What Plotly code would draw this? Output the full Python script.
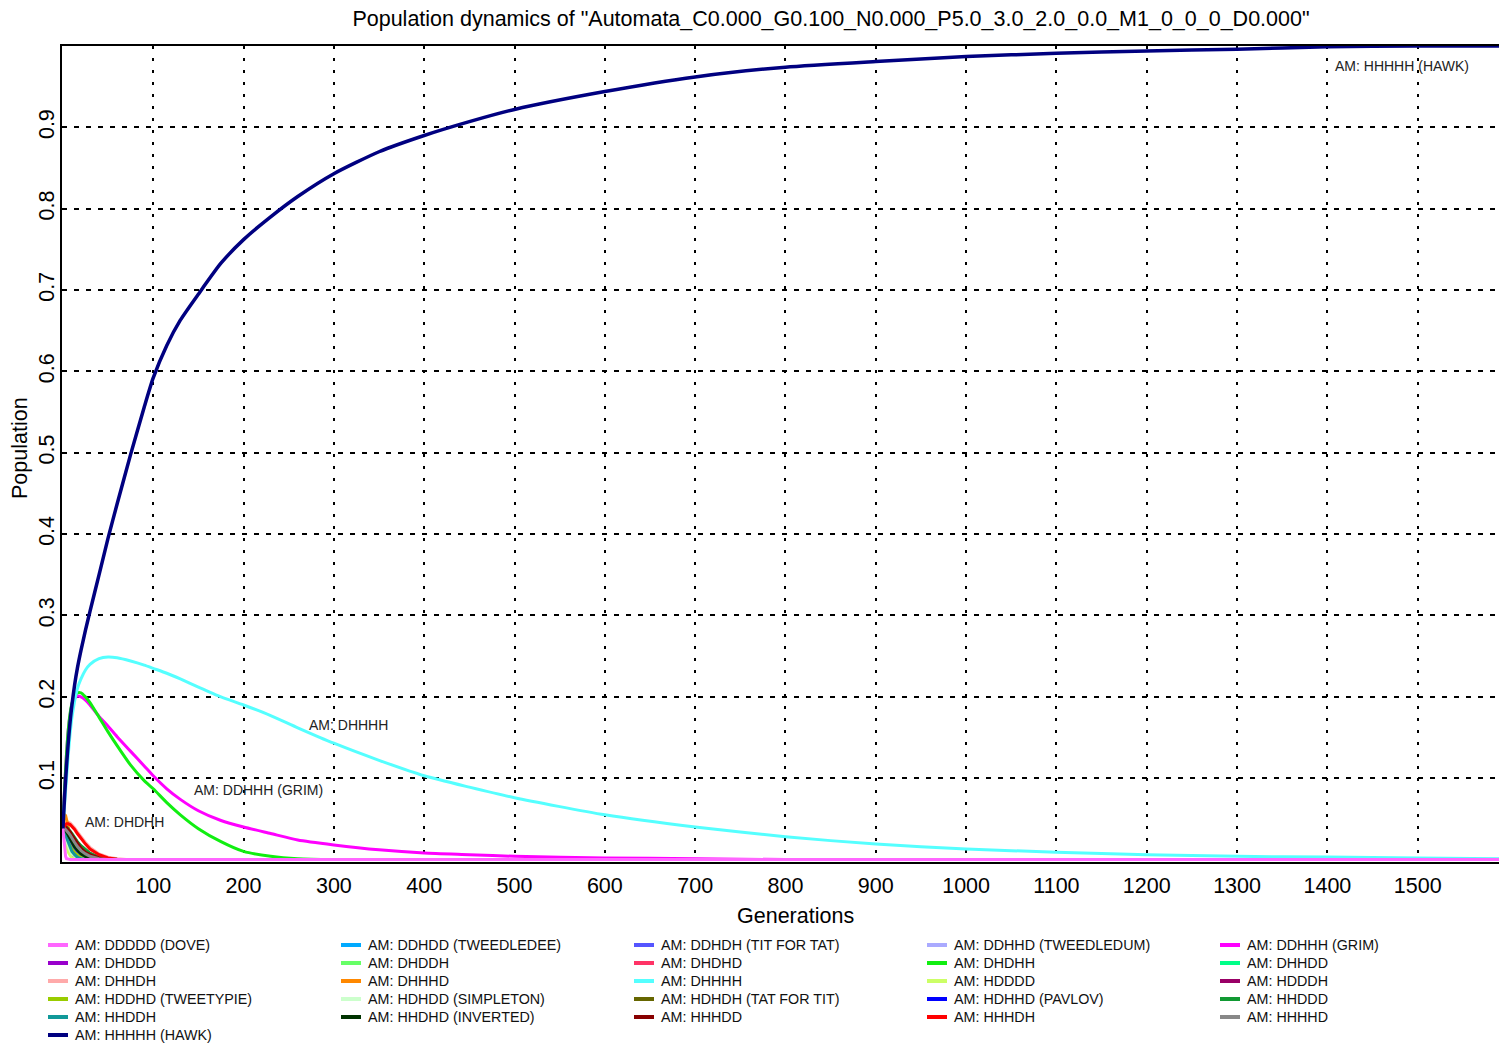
import plotly.graph_objects as go

# ---------------- data ----------------
STRATEGIES = [
    "AM: DDDDD (DOVE)", "AM: DDHDD (TWEEDLEDEE)", "AM: DDHDH (TIT FOR TAT)", "AM: DDHHD (TWEEDLEDUM)", "AM: DDHHH (GRIM)",
    "AM: DHDDD", "AM: DHDDH", "AM: DHDHD", "AM: DHDHH", "AM: DHHDD",
    "AM: DHHDH", "AM: DHHHD", "AM: DHHHH", "AM: HDDDD", "AM: HDDDH",
    "AM: HDDHD (TWEETYPIE)", "AM: HDHDD (SIMPLETON)", "AM: HDHDH (TAT FOR TIT)", "AM: HDHHD (PAVLOV)", "AM: HHDDD",
    "AM: HHDDH", "AM: HHDHD (INVERTED)", "AM: HHHDD", "AM: HHHDH", "AM: HHHHD",
    "AM: HHHHH (HAWK)",
]
COLORS = [
    "#FF66FF", "#00AAFF", "#5555FF", "#AAAAFF", "#FF00FF",
    "#9900CC", "#66FF66", "#FF3366", "#11EE11", "#00FF88",
    "#FFAAAA", "#FF8800", "#55FFFF", "#CCFF66", "#990066",
    "#99CC00", "#CCFFCC", "#666600", "#0000FF", "#119933",
    "#119999", "#003300", "#880000", "#FF0000", "#888888",
    "#000080",
]

# generations for the long-lived strategies
MAIN_GENS = [0, 2, 4, 6, 8, 10, 13, 16, 20, 25, 30, 40, 50, 60, 75, 90, 100, 115, 130, 150,
             175, 200, 230, 260, 300, 350, 400, 450, 500, 600, 700, 800, 900, 1000, 1100, 1200,
             1300, 1400, 1500, 1590]
HAWK = [0.038, 0.08, 0.115, 0.145, 0.17, 0.19, 0.215, 0.235, 0.257, 0.282, 0.305, 0.35, 0.395, 0.437,
        0.498, 0.556, 0.592, 0.632, 0.663, 0.695, 0.733, 0.762, 0.79, 0.815, 0.843, 0.87, 0.89, 0.907,
        0.922, 0.944, 0.962, 0.974, 0.981, 0.987, 0.991, 0.994, 0.996, 0.999, 1.0, 1.0]
DHHHH = [0.038, 0.07, 0.10, 0.13, 0.155, 0.175, 0.195, 0.21, 0.222, 0.233, 0.240, 0.247, 0.249,
         0.248, 0.244, 0.239, 0.235, 0.229, 0.222, 0.212, 0.2, 0.19, 0.177, 0.162, 0.143, 0.122,
         0.103, 0.089, 0.076, 0.055, 0.040, 0.028, 0.019, 0.013, 0.009, 0.006, 0.004, 0.003, 0.002,
         0.001]
DHDHH = [0.04, 0.09, 0.13, 0.16, 0.18, 0.192, 0.201, 0.205, 0.205, 0.2, 0.193, 0.175, 0.157, 0.14,
         0.116, 0.097, 0.087, 0.07, 0.055, 0.038, 0.022, 0.01, 0.004, 0.001, 0.0, 0.0, 0.0, 0.0,
         0.0, 0.0, 0.0, 0.0, 0.0, 0.0, 0.0, 0.0, 0.0, 0.0, 0.0, 0.0]
DDHHH = [0.045, 0.09, 0.13, 0.16, 0.178, 0.19, 0.198, 0.201, 0.2, 0.196, 0.19, 0.176, 0.164, 0.151,
         0.133, 0.115, 0.103, 0.087, 0.074, 0.06, 0.048, 0.04, 0.032, 0.024, 0.018, 0.012, 0.008,
         0.006, 0.004, 0.002, 0.001, 0.0, 0.0, 0.0, 0.0, 0.0, 0.0, 0.0, 0.0, 0.0]

# generations for the short-lived strategies
EARLY_GENS = [0, 1, 2, 3, 4, 6, 8, 10, 13, 16, 20, 25, 30, 40, 50, 60, 70, 1590]
DDDDD = [0.038, 0.025, 0.012, 0.004, 0.001, 0, 0, 0, 0, 0, 0, 0, 0, 0, 0, 0, 0, 0]
DDHDD = [0.038, 0.037, 0.035, 0.032, 0.029, 0.022, 0.016, 0.011, 0.006, 0.003, 0.001, 0, 0, 0, 0, 0, 0, 0]
DDHDH = [0.038, 0.038, 0.037, 0.036, 0.035, 0.032, 0.029, 0.026, 0.021, 0.017, 0.012, 0.008, 0.005, 0.002, 0.0005, 0, 0, 0]
DDHHD = [0.038, 0.038, 0.037, 0.035, 0.033, 0.029, 0.025, 0.021, 0.016, 0.012, 0.008, 0.005, 0.003, 0.001, 0, 0, 0, 0]
DHDDD = [0.038, 0.034, 0.029, 0.024, 0.019, 0.012, 0.007, 0.004, 0.002, 0.001, 0, 0, 0, 0, 0, 0, 0, 0]
DHDDH = [0.038, 0.038, 0.037, 0.036, 0.034, 0.030, 0.026, 0.022, 0.016, 0.011, 0.007, 0.004, 0.002, 0.0005, 0, 0, 0, 0]
DHDHD = [0.038, 0.039, 0.039, 0.038, 0.037, 0.033, 0.029, 0.024, 0.018, 0.013, 0.008, 0.004, 0.002, 0.0005, 0, 0, 0, 0]
DHHDD = [0.038, 0.037, 0.035, 0.032, 0.029, 0.023, 0.017, 0.012, 0.007, 0.004, 0.002, 0.0005, 0, 0, 0, 0, 0, 0]
DHHDH = [0.038, 0.041, 0.043, 0.045, 0.046, 0.046, 0.045, 0.043, 0.039, 0.034, 0.028, 0.021, 0.015, 0.007, 0.003, 0.001, 0, 0]
DHHHD = [0.045, 0.052, 0.055, 0.054, 0.05, 0.04, 0.028, 0.018, 0.008, 0.003, 0.001, 0, 0, 0, 0, 0, 0, 0]
HDDDD = [0.038, 0.033, 0.027, 0.021, 0.016, 0.009, 0.005, 0.002, 0.001, 0, 0, 0, 0, 0, 0, 0, 0, 0]
HDDDH = [0.038, 0.037, 0.036, 0.034, 0.032, 0.027, 0.023, 0.019, 0.013, 0.009, 0.005, 0.002, 0.001, 0, 0, 0, 0, 0]
HDDHD = [0.038, 0.037, 0.035, 0.033, 0.031, 0.026, 0.021, 0.017, 0.012, 0.008, 0.004, 0.002, 0.001, 0, 0, 0, 0, 0]
HDHDD = [0.038, 0.035, 0.031, 0.027, 0.023, 0.016, 0.011, 0.007, 0.004, 0.002, 0.001, 0, 0, 0, 0, 0, 0, 0]
HDHDH = [0.038, 0.039, 0.039, 0.039, 0.038, 0.036, 0.033, 0.030, 0.025, 0.020, 0.015, 0.010, 0.006, 0.002, 0.0005, 0, 0, 0]
HDHHD = [0.038, 0.038, 0.037, 0.035, 0.033, 0.029, 0.025, 0.021, 0.015, 0.011, 0.007, 0.004, 0.002, 0.0005, 0, 0, 0, 0]
HHDDD = [0.038, 0.039, 0.040, 0.040, 0.040, 0.038, 0.035, 0.032, 0.027, 0.022, 0.017, 0.012, 0.008, 0.003, 0.001, 0.0003, 0, 0]
HHDDH = [0.038, 0.036, 0.033, 0.030, 0.027, 0.020, 0.015, 0.010, 0.006, 0.003, 0.001, 0, 0, 0, 0, 0, 0, 0]
HHDHD = [0.038, 0.038, 0.037, 0.036, 0.034, 0.030, 0.026, 0.022, 0.016, 0.012, 0.007, 0.004, 0.002, 0.0005, 0, 0, 0, 0]
HHHDD = [0.038, 0.039, 0.040, 0.040, 0.039, 0.037, 0.034, 0.030, 0.025, 0.020, 0.014, 0.009, 0.006, 0.002, 0.0005, 0, 0, 0]
HHHDH = [0.038, 0.040, 0.042, 0.043, 0.044, 0.044, 0.043, 0.041, 0.037, 0.032, 0.026, 0.019, 0.013, 0.006, 0.002, 0.0005, 0, 0]
HHHHD = [0.038, 0.038, 0.038, 0.037, 0.036, 0.033, 0.030, 0.026, 0.021, 0.016, 0.011, 0.007, 0.004, 0.001, 0, 0, 0, 0]

X_TICKS = [100, 200, 300, 400, 500, 600, 700, 800, 900, 1000, 1100, 1200, 1300, 1400, 1500]
Y_TICKS = [0.1, 0.2, 0.3, 0.4, 0.5, 0.6, 0.7, 0.8, 0.9]

SERIES = [
    (EARLY_GENS, DDDDD), (EARLY_GENS, DDHDD), (EARLY_GENS, DDHDH), (EARLY_GENS, DDHHD), (MAIN_GENS, DDHHH),
    (EARLY_GENS, DHDDD), (EARLY_GENS, DHDDH), (EARLY_GENS, DHDHD), (MAIN_GENS, DHDHH), (EARLY_GENS, DHHDD),
    (EARLY_GENS, DHHDH), (EARLY_GENS, DHHHD), (MAIN_GENS, DHHHH), (EARLY_GENS, HDDDD), (EARLY_GENS, HDDDH),
    (EARLY_GENS, HDDHD), (EARLY_GENS, HDHDD), (EARLY_GENS, HDHDH), (EARLY_GENS, HDHHD), (EARLY_GENS, HHDDD),
    (EARLY_GENS, HHDDH), (EARLY_GENS, HHDHD), (EARLY_GENS, HHHDD), (EARLY_GENS, HHHDH), (EARLY_GENS, HHHHD),
    (MAIN_GENS, HAWK),
]

# ---------------- figure ----------------
W, H = 1499, 1045
ML, MR, MT, MB = 62, 0, 46, 183
PW, PH = W - ML - MR, H - MT - MB
FONT = "Liberation Sans, Arial, sans-serif"


def px_x(px):
    return (px - ML) / PW


def px_y(py):
    return (H - MB - py) / PH


fig = go.Figure()

order = list(range(1, len(STRATEGIES))) + [0]  # dove drawn last (on top along zero)
for i in order:
    gx, gy = SERIES[i]
    is_main = gx is MAIN_GENS
    fig.add_trace(go.Scatter(
        x=gx, y=gy, mode="lines", name=STRATEGIES[i],
        line=dict(color=COLORS[i], width=3.5 if i == 25 else 3,
                  shape="spline" if is_main else "linear", smoothing=0.6),
        showlegend=False,
    ))

# manual legend (5 columns, row-major)
shapes = []
annotations = []
for i, (name, col) in enumerate(zip(STRATEGIES, COLORS)):
    c, r = i % 5, i // 5
    x0 = 48 + 293 * c
    yy = 945 + 18 * r
    shapes.append(dict(type="line", xref="paper", yref="paper",
                       x0=px_x(x0), x1=px_x(x0 + 20), y0=px_y(yy), y1=px_y(yy),
                       line=dict(color=col, width=4)))
    annotations.append(dict(text=name, xref="paper", yref="paper", x=px_x(x0 + 25), y=px_y(yy),
                            xanchor="left", yanchor="middle", showarrow=False,
                            font=dict(family=FONT, size=14.3, color="#111")))

# curve labels
for txt, gx, gy in [("AM: HHHHH (HAWK)", 1406, 0.975), ("AM: DHHHH", 270, 0.165),
                    ("AM: DDHHH (GRIM)", 143, 0.0853), ("AM: DHDHH", 22.6, 0.046)]:
    annotations.append(dict(text=txt, x=gx, y=gy, xref="x", yref="y", xanchor="left",
                            yanchor="middle", showarrow=False,
                            font=dict(family=FONT, size=14, color="#222")))

# axis titles
annotations.append(dict(text="Generations", xref="paper", yref="paper", x=px_x(795), y=px_y(916),
                        xanchor="center", yanchor="middle", showarrow=False,
                        font=dict(family=FONT, size=21.5, color="black")))
annotations.append(dict(text="Population", xref="paper", yref="paper", x=px_x(20), y=px_y(448),
                        xanchor="center", yanchor="middle", showarrow=False, textangle=-90,
                        font=dict(family=FONT, size=21.5, color="black")))

fig.update_layout(
    width=W, height=H,
    margin=dict(l=ML, r=MR, t=MT, b=MB, pad=0),
    paper_bgcolor="white", plot_bgcolor="white",
    font=dict(family=FONT, color="black"),
    title=dict(text='Population dynamics of "Automata_C0.000_G0.100_N0.000_P5.0_3.0_2.0_0.0_M1_0_0_0_D0.000"',
               x=831 / W, xref="container", xanchor="center",
               y=1 - 18 / H, yref="container", yanchor="middle",
               font=dict(family=FONT, size=21.5, color="black")),
    showlegend=False,
    shapes=shapes,
    annotations=annotations,
)
fig.update_xaxes(
    range=[-1, 1590], tickmode="array", tickvals=X_TICKS,
    showgrid=True, gridcolor="black", gridwidth=2, griddash="3px,9px",
    showline=True, linecolor="black", linewidth=2, mirror=True,
    zeroline=False, ticks="", tickfont=dict(family=FONT, size=21.5, color="black"),
    ticklabelstandoff=3,
)
fig.update_yaxes(
    range=[-0.003, 1.0], tickmode="array", tickvals=Y_TICKS, tickangle=-90,
    showgrid=True, gridcolor="black", gridwidth=2, griddash="5px,7px",
    showline=True, linecolor="black", linewidth=2, mirror=False,
    zeroline=False, ticks="", tickfont=dict(family=FONT, size=21.5, color="black"),
    ticklabelstandoff=-3,
)

fig.write_html("out.html", config={"displayModeBar": False},
               post_script="document.body.style.margin='0';")
